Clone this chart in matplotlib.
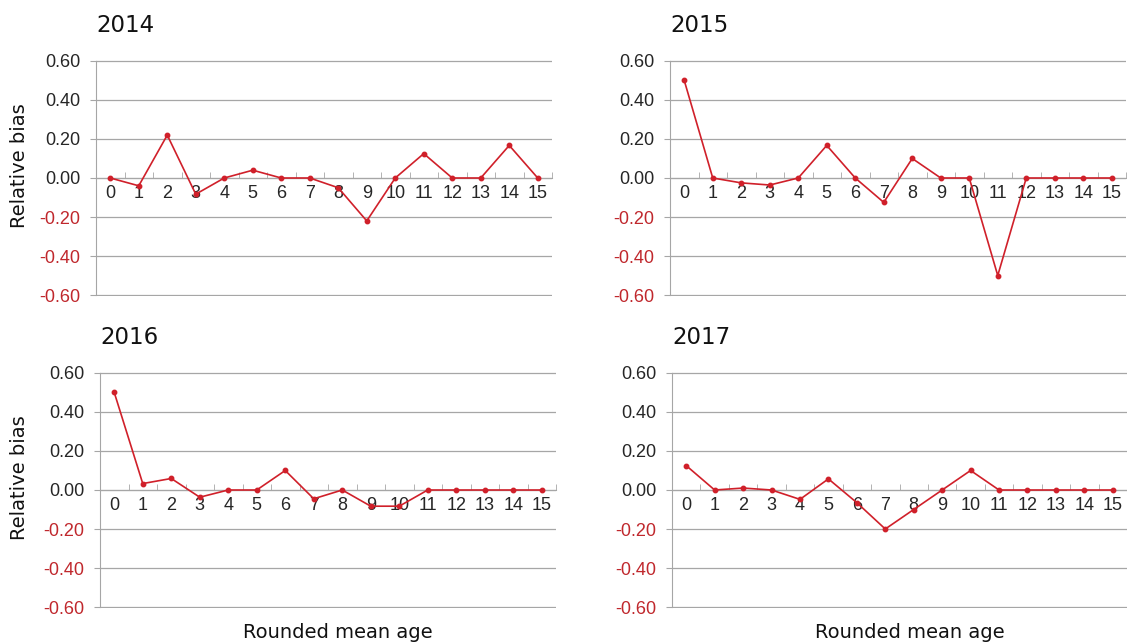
import numpy as np
import matplotlib
matplotlib.use("Agg")
import matplotlib.pyplot as plt

# ages 0..15
ages = list(range(16))

bias_2014 = [0.0, -0.04, 0.22, -0.083, 0.0, 0.04, 0.0, 0.0, -0.05, -0.22,
             0.0, 0.125, 0.0, 0.0, 0.167, 0.0]
bias_2015 = [0.50, 0.0, -0.025, -0.036, 0.0, 0.167, 0.0, -0.125, 0.10, 0.0,
             0.0, -0.50, 0.0, 0.0, 0.0, 0.0]
bias_2016 = [0.50, 0.033, 0.059, -0.037, 0.0, 0.0, 0.10, -0.045, 0.0, -0.083,
             -0.083, 0.0, 0.0, 0.0, 0.0, 0.0]
bias_2017 = [0.125, 0.0, 0.01, 0.0, -0.048, 0.057, -0.065, -0.20, -0.10, 0.0,
             0.10, 0.0, 0.0, 0.0, 0.0, 0.0]

years = ["2014", "2015", "2016", "2017"]
series = [bias_2014, bias_2015, bias_2016, bias_2017]
yticks = [-0.6, -0.4, -0.2, 0.0, 0.2, 0.4, 0.6]

W, H = 1127, 643
fig = plt.figure(figsize=(W / 100, H / 100), dpi=100)

# axes boxes in pixels: left, right, top, bottom
boxes = [(96, 552, 61, 295), (670, 1126, 61, 295),
         (100, 556, 373, 607), (672, 1127, 373, 607)]

line_red = "#D0202A"
neg_red = "#C0282D"
grid_gray = "#A6A6A6"
tick_font = "Liberation Sans"

for i, (yr, vals, (l, r, t, b)) in enumerate(zip(years, series, boxes)):
    ax = fig.add_axes([l / W, 1 - (b + 1) / H, (r - l) / W, (b - t + 2) / H])
    ax.plot(ages, vals, color=line_red, lw=1.2, marker="o", ms=3.2,
            mec=line_red, mfc=line_red, zorder=3)
    ax.set_xlim(-0.5, 15.5)
    ax.set_ylim(-0.605, 0.605)

    for s in ["top", "right"]:
        ax.spines[s].set_visible(False)
    ax.spines["left"].set_color(grid_gray)
    ax.spines["bottom"].set_color(grid_gray)
    ax.spines["bottom"].set_position(("data", 0))
    ax.spines["left"].set_bounds(-0.6, 0.6)

    ax.set_yticks(yticks)
    ax.set_yticklabels(["%.2f" % v for v in yticks], fontfamily=tick_font,
                       fontsize=13)
    for lab, v in zip(ax.get_yticklabels(), yticks):
        lab.set_color(neg_red if v < 0 else "#262626")
    ax.tick_params(axis="y", length=4, color=grid_gray, pad=7)
    ax.yaxis.grid(True, color=grid_gray, lw=0.9)
    ax.set_axisbelow(True)

    ax.set_xticks(ages)
    ax.set_xticklabels([str(a) for a in ages], fontfamily=tick_font,
                       fontsize=13, color="#262626")
    ax.tick_params(axis="x", length=0, pad=5)
    ax.set_xticks(np.arange(-0.5, 16, 1), minor=True)
    ax.tick_params(axis="x", which="minor", direction="in", length=4,
                   color=grid_gray)

    fig.text(l / W, 1 - (t - 36) / H, yr, fontsize=16.5,
             fontfamily="DejaVu Sans", va="center", ha="left", color="#111111")

    if i % 2 == 0:
        fig.text(20 / W, 1 - ((t + b) / 2 - 12) / H, "Relative bias",
                 rotation=90, fontsize=14, fontfamily="DejaVu Sans",
                 va="center", ha="center", color="#111111")
    if i >= 2:
        fig.text(((l + r) / 2 + 10) / W, 1 - 632 / H, "Rounded mean age",
                 fontsize=14, fontfamily="DejaVu Sans", va="center",
                 ha="center", color="#111111")

fig.savefig("out.png", dpi=100, facecolor="white")
